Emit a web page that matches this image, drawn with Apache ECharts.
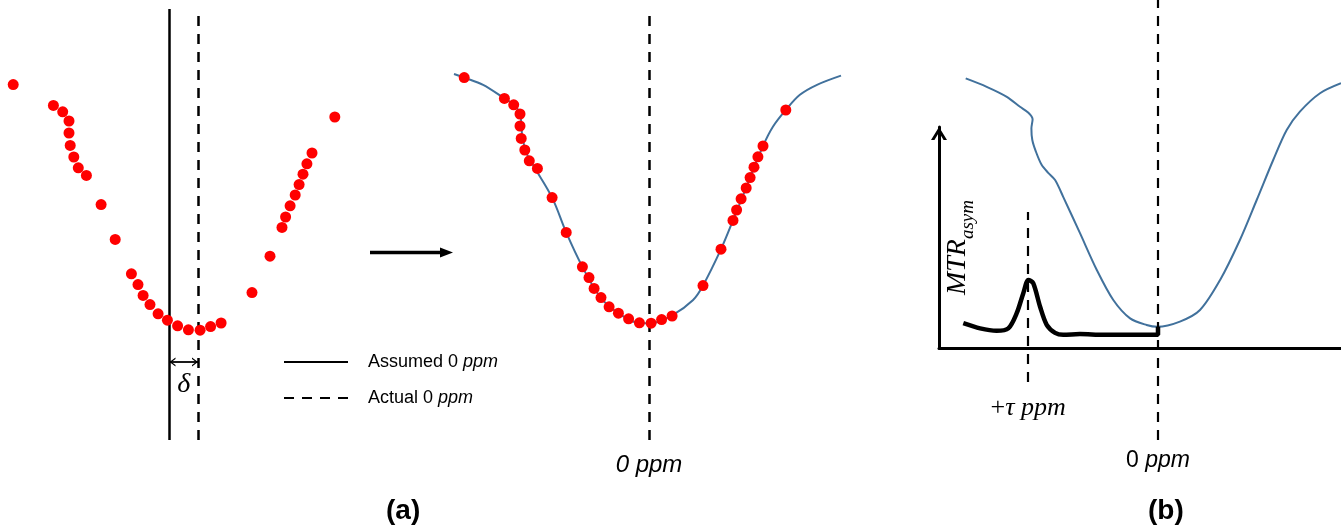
<!DOCTYPE html>
<html><head><meta charset="utf-8">
<script src="https://cdn.jsdelivr.net/npm/echarts@6/dist/echarts.min.js"></script>
<style>html,body{margin:0;padding:0;background:#fff}#c{width:1341px;height:528px}</style>
</head><body><div id="c"></div>
<script>
// ---- data (offsets in ppm, signal normalised) ----
const zOffsets = [-6.16,-4.82,-4.51,-4.30,-4.30,-4.26,-4.14,-3.99,-3.72,-3.23,-2.76,-2.22,-2.00,-1.83,-1.60,-1.33,-1.02,-0.68,-0.32,0.07,0.42,0.77,1.80,2.40,2.80,2.92,3.07,3.24,3.37,3.50,3.63,3.80,4.56];
const zSignal  = [0.906,0.854,0.838,0.815,0.785,0.754,0.725,0.698,0.679,0.606,0.519,0.433,0.406,0.379,0.356,0.333,0.317,0.303,0.293,0.292,0.301,0.310,0.386,0.477,0.549,0.575,0.603,0.630,0.656,0.682,0.708,0.735,0.825];

const fitOffsets = [-6.50,-6.16,-5.53,-4.82,-4.50,-4.30,-4.25,-4.23,-4.10,-3.87,-3.23,-2.76,-2.22,-1.63,-1.02,-0.30,0.07,0.80,1.47,1.80,2.40,2.80,3.37,3.80,4.13,4.56,5.03,5.60,6.40];
const fitSignal  = [0.915,0.906,0.888,0.854,0.838,0.815,0.785,0.763,0.720,0.688,0.606,0.519,0.433,0.358,0.317,0.292,0.292,0.313,0.350,0.386,0.477,0.549,0.656,0.735,0.783,0.825,0.863,0.888,0.911];

const zspecOffsets = [6.41,5.71,5.04,4.60,4.32,4.18,4.22,4.19,4.07,3.88,3.66,3.43,3.16,2.60,2.04,1.49,0.93,0.38,0.02,-0.73,-1.40,-2.07,-2.73,-3.29,-3.84,-4.29,-4.73,-5.40,-6.10];
const zspecSignal  = [0.904,0.883,0.858,0.833,0.818,0.802,0.779,0.750,0.721,0.688,0.668,0.650,0.608,0.517,0.425,0.350,0.304,0.2875,0.283,0.296,0.325,0.400,0.500,0.600,0.700,0.775,0.821,0.867,0.892];

const mtrOffsets = [6.49,5.93,5.38,4.99,4.71,4.49,4.32,4.16,3.93,3.71,3.43,3.16,2.60,1.82,0.00,0.00];
const mtrValues  = [0.062,0.049,0.043,0.049,0.087,0.137,0.170,0.162,0.103,0.058,0.038,0.033,0.035,0.033,0.033,0.053];

const delta = 0.95;          // shift between assumed and actual 0 ppm
const tau = 4.33;            // +tau ppm
const deltaArrowLevel = 0.2125;
const tauLineRange = [0.145, 0.57];
const legendNames = ['Assumed 0 ppm', 'Actual 0 ppm'];

// ---- helpers ----
const zip = (a, b) => a.map((v, i) => [v, b[i]]);
const RED = '#ff0000', BLUE = '#41719c', BLACK = '#000';
const DASH = [10, 8];
const chevMark = 'path://M5,-7L5.01,-7L5,-6.99Z M0,7L5,0L10,7L8.4,7L5,2.3L1.6,7Z';
const chevAxis = 'path://M0,13L8,0L16,13L12.6,13L8,5.53L3.4,13Z';
const sans = 'Liberation Sans, Arial, sans-serif';
const serif = 'Liberation Serif, Times New Roman, serif';

const hidden = {show: false};
const chart = echarts.init(document.getElementById('c'), null, {renderer: 'canvas'});

chart.setOption({
  animation: false,
  backgroundColor: '#fff',
  title: [
    {text: '(a)', left: 386, top: 497, padding: 0, textStyle: {fontFamily: sans, fontWeight: 'bold', fontSize: 28, color: BLACK}},
    {text: '(b)', left: 1148, top: 497, padding: 0, textStyle: {fontFamily: sans, fontWeight: 'bold', fontSize: 28, color: BLACK}}
  ],
  legend: {
    data: legendNames, orient: 'vertical', left: 283, top: 353, padding: 0,
    itemWidth: 64, itemHeight: 14, itemGap: 18, selectedMode: false,
    itemStyle: {opacity: 0},
    formatter: n => n.replace('ppm', '{i|ppm}'),
    textStyle: {fontFamily: sans, fontSize: 18, color: BLACK, padding: [0, 0, 0, 15],
      rich: {i: {fontFamily: sans, fontSize: 18, fontStyle: 'italic', color: BLACK}}}
  },
  grid: [
    {left: 0, top: 9, width: 360, height: 431, outerBoundsMode: 'none'},
    {left: 439, top: 9, width: 420, height: 431, outerBoundsMode: 'none'},
    {left: 939, top: 0, width: 402, height: 440, outerBoundsMode: 'none'},
    {left: 939, top: 127, width: 402, height: 221, outerBoundsMode: 'none'}
  ],
  xAxis: [
    {gridIndex: 0, type: 'value', min: -6.6, max: 5.4, show: false},
    {gridIndex: 1, type: 'value', min: -7, max: 7,
      axisLine: hidden, axisTick: hidden, splitLine: hidden,
      axisLabel: {customValues: [0], margin: 13, formatter: () => '{i|0 ppm}',
        rich: {i: {fontFamily: sans, fontSize: 24, fontStyle: 'italic', color: BLACK}}}},
    {gridIndex: 2, type: 'value', min: -6.1, max: 7.3, inverse: true,
      axisLine: hidden, axisTick: hidden, splitLine: hidden,
      axisLabel: {customValues: [0], margin: 9, formatter: () => '{n|0 }{i|ppm}',
        rich: {n: {fontFamily: sans, fontSize: 23, color: BLACK}, i: {fontFamily: sans, fontSize: 23, fontStyle: 'italic', color: BLACK}}}},
    {gridIndex: 3, type: 'value', min: -6.1, max: 7.3, inverse: true,
      axisLine: {show: true, onZero: false, lineStyle: {color: BLACK, width: 3}},
      axisTick: hidden, splitLine: hidden,
      axisLabel: {customValues: [tau], margin: 47, formatter: () => '{u|+}{i|τ ppm}',
        rich: {u: {fontFamily: serif, fontSize: 26, color: BLACK}, i: {fontFamily: serif, fontSize: 26, fontStyle: 'italic', color: BLACK}}}}
  ],
  yAxis: [
    {gridIndex: 0, type: 'value', min: 0.0175, max: 1.095, show: false},
    {gridIndex: 1, type: 'value', min: 0, max: 1.0775, show: false},
    {gridIndex: 2, type: 'value', min: 0, max: 1.1, show: false},
    {gridIndex: 3, type: 'value', min: 0, max: 0.5525,
      axisLine: {show: true, onZero: false, symbol: ['none', chevAxis], symbolSize: [17, 13], symbolOffset: [0, -6.5],
        lineStyle: {color: BLACK, width: 3}},
      axisTick: hidden, axisLabel: hidden, splitLine: hidden,
      name: '{m|MTR}{s|asym}', nameLocation: 'middle', nameRotate: 90, nameGap: -38,
      nameTextStyle: {padding: [0, 20, 0, 0], rich: {
        m: {fontFamily: serif, fontStyle: 'italic', fontSize: 28, color: BLACK, verticalAlign: 'bottom', padding: [0, 0, 5, 0]},
        s: {fontFamily: serif, fontStyle: 'italic', fontSize: 19, color: BLACK, verticalAlign: 'bottom'}}}}
  ],
  graphic: [
    {type: 'line', shape: {x1: 370, y1: 252.5, x2: 444, y2: 252.5}, style: {stroke: BLACK, lineWidth: 3.5}, silent: true},
    {type: 'polygon', shape: {points: [[440, 247.5], [453, 252.5], [440, 257.5]]}, style: {fill: BLACK}, silent: true}
  ],
  series: [
    {name: 'raw', type: 'scatter', xAxisIndex: 0, yAxisIndex: 0, data: zip(zOffsets, zSignal),
      symbolSize: 11, itemStyle: {color: RED, opacity: 1}, emphasis: {disabled: true}, z: 5,
      markLine: {silent: true, symbol: [chevMark, chevMark], symbolSize: [9, 12],
        lineStyle: {color: BLACK, width: 1.8, type: 'solid'},
        label: {show: true, position: 'insideMiddleBottom', distance: 9, formatter: 'δ',
          fontFamily: serif, fontStyle: 'italic', fontSize: 28, color: BLACK},
        data: [[{coord: [-delta, deltaArrowLevel]}, {coord: [0, deltaArrowLevel]}]]}},
    {name: legendNames[0], type: 'line', xAxisIndex: 0, yAxisIndex: 0, data: [], symbol: 'none',
      lineStyle: {color: BLACK, width: 2.5, type: 'solid'}, itemStyle: {color: BLACK, opacity: 0},
      markLine: {silent: true, symbol: ['none', 'none'], label: hidden,
        lineStyle: {color: BLACK, width: 2.5, type: 'solid', opacity: 1}, data: [{xAxis: -delta}]}},
    {name: legendNames[1], type: 'line', xAxisIndex: 0, yAxisIndex: 0, data: [], symbol: 'none',
      lineStyle: {color: BLACK, width: 2.5, type: DASH}, itemStyle: {color: BLACK, opacity: 0},
      markLine: {silent: true, symbol: ['none', 'none'], label: hidden,
        lineStyle: {color: BLACK, width: 2.5, type: DASH, opacity: 1}, data: [{xAxis: 0}]}},
    {name: 'fit', type: 'line', xAxisIndex: 1, yAxisIndex: 1, data: zip(fitOffsets, fitSignal),
      smooth: 0.35, symbol: 'none', lineStyle: {color: BLUE, width: 2}, emphasis: {disabled: true},
      markLine: {silent: true, symbol: ['none', 'none'], label: hidden,
        lineStyle: {color: BLACK, width: 2.5, type: DASH}, data: [{xAxis: 0}]}},
    {name: 'corrected', type: 'scatter', xAxisIndex: 1, yAxisIndex: 1, data: zip(zOffsets, zSignal),
      symbolSize: 11, itemStyle: {color: RED, opacity: 1}, emphasis: {disabled: true}, z: 5},
    {name: 'Z-spectrum', type: 'line', xAxisIndex: 2, yAxisIndex: 2, data: zip(zspecOffsets, zspecSignal),
      smooth: 0.3, symbol: 'none', lineStyle: {color: BLUE, width: 2}, emphasis: {disabled: true},
      markLine: {silent: true, symbol: ['none', 'none'], label: hidden,
        lineStyle: {color: BLACK, width: 2.2, type: DASH},
        data: [{xAxis: 0}, [{coord: [tau, tauLineRange[0]]}, {coord: [tau, tauLineRange[1]]}]]}},
    {name: 'MTRasym', type: 'line', xAxisIndex: 3, yAxisIndex: 3, data: zip(mtrOffsets, mtrValues),
      smooth: 0.3, symbol: 'none', lineStyle: {color: BLACK, width: 4.5}, emphasis: {disabled: true}, z: 4}
  ]
});
</script>
</body></html>
